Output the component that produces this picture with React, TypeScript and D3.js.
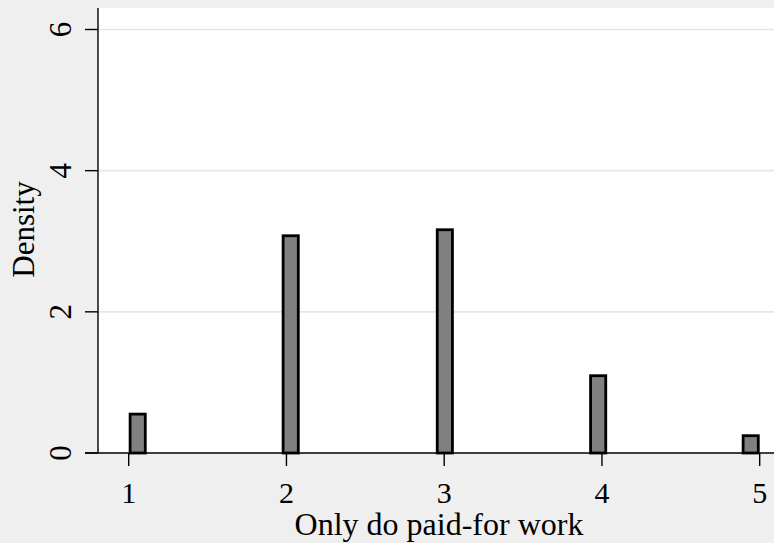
import React from "react";
import * as d3 from "d3";

// Histogram of "Only do paid-for work" (density scale)
const binLower = [1.0, 1.97, 2.947, 3.919, 4.886];
const densities = [0.551, 3.078, 3.163, 1.095, 0.245];
const binWidth = 0.114;
const xTicks = [1, 2, 3, 4, 5];
const yTicks = [0, 2, 4, 6];
const yGrid = [2, 4, 6];

const W = 774;
const H = 543;
const plotLeft = 98;
const plotTop = 8;
const plotRight = 774;
const FONT = "'Liberation Serif', 'Times New Roman', serif";

export default function App() {
  const x = d3.scaleLinear().domain([1, 5]).range([128.7, 759.7]);
  const y = d3.scaleLinear().domain([0, 6]).range([453, 29.5]);
  const sw = 2.8;
  const base = y(0);

  return (
    <svg
      width={W}
      height={H}
      style={{ position: "fixed", left: 0, top: 0, display: "block" }}
    >
      <rect x={0} y={0} width={W} height={H} fill="#efefef" />
      <rect
        x={plotLeft}
        y={plotTop}
        width={plotRight - plotLeft}
        height={base - plotTop}
        fill="#ffffff"
      />
      {yGrid.map((t) => (
        <line
          key={"g" + t}
          x1={plotLeft}
          x2={plotRight}
          y1={y(t)}
          y2={y(t)}
          stroke="#e6e6e6"
          strokeWidth={1.6}
        />
      ))}
      {binLower.map((lo, i) => {
        const x0 = x(lo);
        const x1 = x(lo + binWidth);
        const top = y(densities[i]);
        return (
          <rect
            key={"b" + i}
            x={x0 + sw / 2}
            y={top}
            width={x1 - x0 - sw}
            height={base - top}
            fill="#808080"
            stroke="#000000"
            strokeWidth={sw}
          />
        );
      })}
      {/* axes */}
      <line x1={plotLeft} x2={plotLeft} y1={plotTop} y2={base} stroke="#000" strokeWidth={1.4} />
      <line x1={plotLeft - 13} x2={plotRight} y1={base} y2={base} stroke="#000" strokeWidth={1.4} />
      {yTicks.map((t) => (
        <g key={"yt" + t}>
          <line x1={plotLeft - 13} x2={plotLeft} y1={y(t)} y2={y(t)} stroke="#000" strokeWidth={1.4} />
          <text
            transform={`translate(71,${y(t)}) rotate(-90)`}
            textAnchor="middle"
            fontFamily={FONT}
            fontSize={31}
            fill="#000"
          >
            {t}
          </text>
        </g>
      ))}
      {xTicks.map((t) => (
        <g key={"xt" + t}>
          <line x1={x(t)} x2={x(t)} y1={base} y2={base + 13} stroke="#000" strokeWidth={1.4} />
          <text
            x={x(t)}
            y={503}
            textAnchor="middle"
            fontFamily={FONT}
            fontSize={30}
            fill="#000"
          >
            {t}
          </text>
        </g>
      ))}
      <text
        x={(plotLeft + plotRight) / 2 + 3}
        y={535}
        textAnchor="middle"
        fontFamily={FONT}
        fontSize={32}
        fill="#000"
      >
        Only do paid-for work
      </text>
      <text
        transform={`translate(34,${(plotTop + base) / 2 - 1}) rotate(-90)`}
        textAnchor="middle"
        fontFamily={FONT}
        fontSize={31}
        fill="#000"
      >
        Density
      </text>
    </svg>
  );
}
